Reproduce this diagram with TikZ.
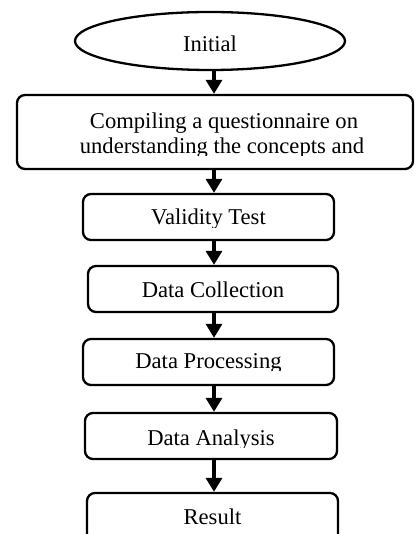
\documentclass[tikz,border=0pt]{standalone}
\usepackage{fontspec}
\setmainfont{Liberation Serif}
\usetikzlibrary{arrows.meta,shapes.geometric}

\tikzset{
  stepbox/.style={draw, line width=2.3pt, rounded corners=8pt, inner sep=0pt, rectangle},
  startshape/.style={draw, line width=2.3pt, ellipse, inner sep=0pt},
  steptext/.style={font=\fontsize{22.6}{26}\selectfont, inner sep=0pt, anchor=base},
  flow/.style={line width=3.2pt, -{Triangle[width=16pt,length=14pt]}},
}

\begin{document}
\begin{tikzpicture}[x=1pt,y=-1pt]
\useasboundingbox (0,0) rectangle (415,534);

% shapes of the flow chart
\node[startshape, minimum width=270pt, minimum height=58pt] (e1) at (210,41) {};
\node[stepbox, minimum width=396pt, minimum height=74pt] (b2) at (215,132) {};
\node[stepbox, minimum width=251pt, minimum height=46pt] (b3) at (208.5,217) {};
\node[stepbox, minimum width=250pt, minimum height=46pt] (b4) at (213,289) {};
\node[stepbox, minimum width=251pt, minimum height=46pt] (b5) at (208.5,362) {};
\node[stepbox, minimum width=252pt, minimum height=46pt] (b6) at (211,436) {};
\node[stepbox, minimum width=251pt, minimum height=60pt] (b7) at (212.5,523) {};

% labels (some are cut off at the bottom of their text frame)
\node[steptext] (t1) at (210,52) {Initial};
\node[steptext] (t2a) at (224,129) {Compiling a questionnaire on};
\begin{scope}
  \clip (0,0) rectangle (415,156);
  \node[steptext] (t2b) at (222,154) {understanding the concepts and};
\end{scope}
\begin{scope}
  \clip (0,190) rectangle (415,227);
  \node[steptext] (t3) at (208.5,225) {Validity Test};
\end{scope}
\node[steptext] (t4) at (213,297) {Data Collection};
\begin{scope}
  \clip (0,335) rectangle (415,370);
  \node[steptext] (t5) at (208.5,368) {Data Processing};
\end{scope}
\begin{scope}
  \clip (0,410) rectangle (415,447);
  \node[steptext] (t6) at (211,445) {Data Analysis};
\end{scope}
\node[steptext] (t7) at (212.5,524) {Result};

% connectors
\coordinate (spine) at (214,0);
\draw[flow] (e1.south -| spine) -- (b2.north -| spine);
\draw[flow] (b2.south -| spine) -- (b3.north -| spine);
\draw[flow] (b3.south -| spine) -- (b4.north -| spine);
\draw[flow] (b4.south -| spine) -- (b5.north -| spine);
\draw[flow] (b5.south -| spine) -- (b6.north -| spine);
\draw[flow] (b6.south -| spine) -- (b7.north -| spine);
\end{tikzpicture}
\end{document}
